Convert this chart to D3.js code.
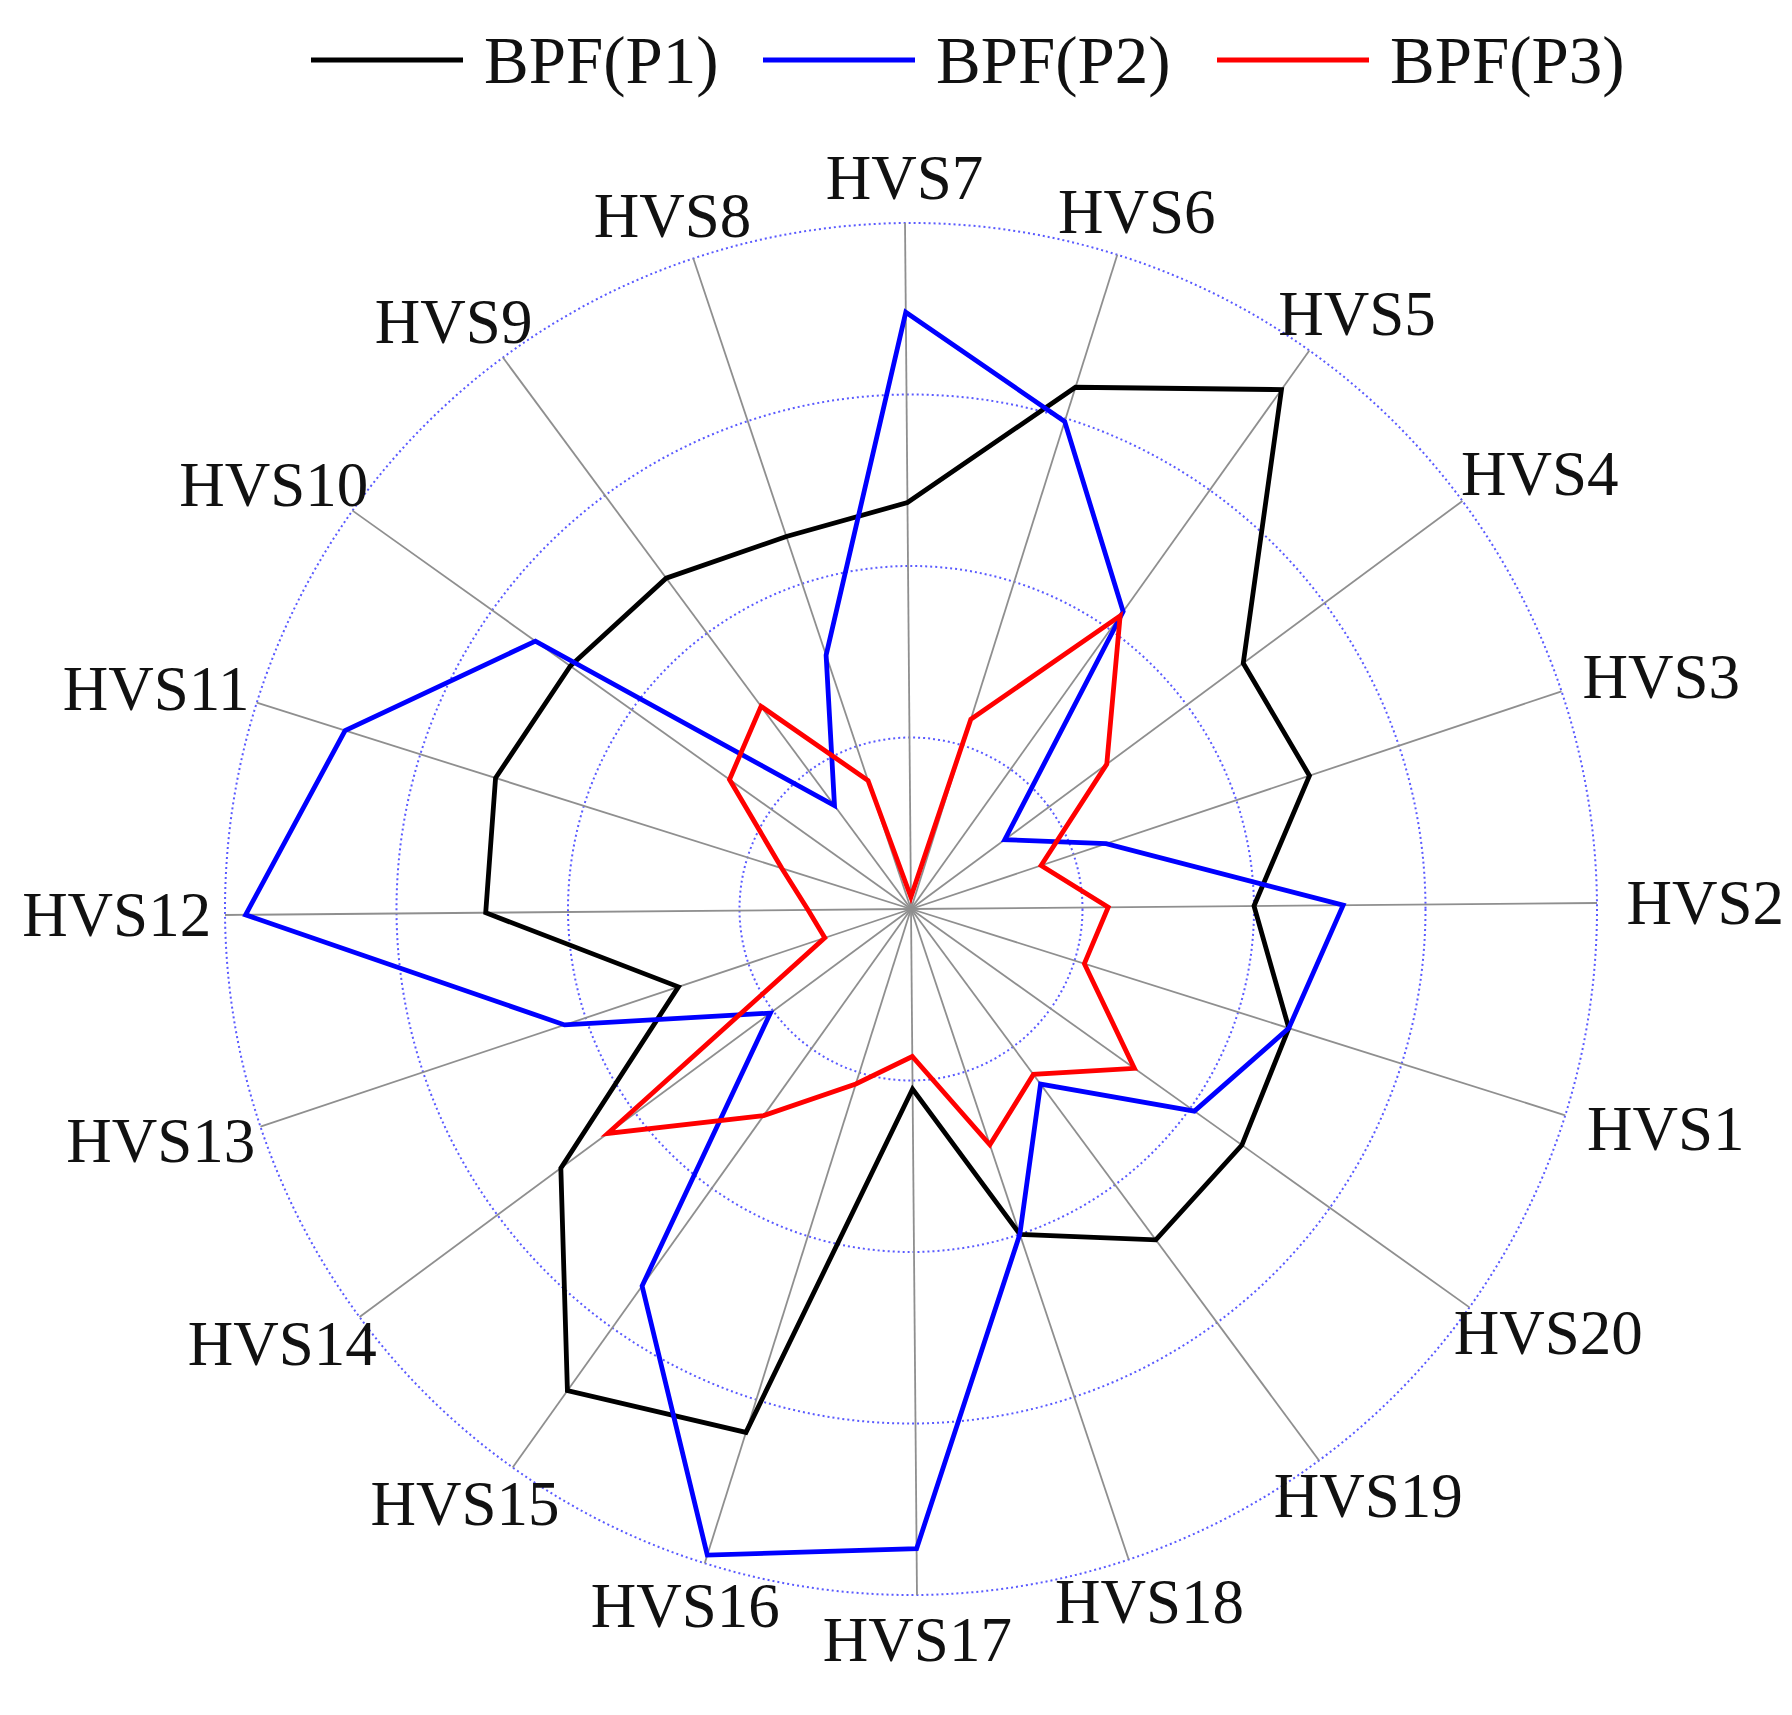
<!DOCTYPE html>
<html><head><meta charset="utf-8">
<script src="https://cdn.jsdelivr.net/npm/d3@7"></script>
<style>body{margin:0;background:#fff}</style>
</head><body>
<svg id="c" width="1792" height="1715"></svg>
<script>
const categories = ["HVS1","HVS2","HVS3","HVS4","HVS5","HVS6","HVS7","HVS8","HVS9","HVS10","HVS11","HVS12","HVS13","HVS14","HVS15","HVS16","HVS17","HVS18","HVS19","HVS20"];
const seriesNames = ["BPF(P1)","BPF(P2)","BPF(P3)"];
const p1 = [2.31,2.0,2.45,2.41,3.72,3.19,2.37,2.29,2.40,2.44,2.54,2.48,1.43,2.54,3.45,3.2,1.05,2.0,2.4,2.37];
const p2 = [2.31,2.52,1.2,0.68,2.13,2.98,3.48,1.56,0.75,2.69,3.46,3.88,2.13,1.02,2.7,3.95,3.73,2.0,1.27,2.03];
const p3 = [1.06,1.15,0.8,1.42,2.1,1.16,0.07,0.79,1.47,1.3,0.79,0.6,0.53,2.2,1.48,1.07,0.86,1.45,1.2,1.6];
const ringTicks = [1,2,3,4];
const colors = ["#000000","#0000ff","#ff0000"];

const svg = d3.select("#c");
const cx = 911, cy = 909, R = 686, S = 1.143;
const r = d3.scaleLinear().domain([0,4]).range([0,R]);
const a0 = (-18 + 0.5) * Math.PI/180;
function angle(i){ return a0 + i*18*Math.PI/180; }
function pt(i,v){ const a=angle(i); return [cx + r(v)*Math.cos(a), cy - r(v)*Math.sin(a)]; }
function labPos(i){
  const a=angle(i), c=Math.cos(a), s=Math.sin(a);
  const dist=(640+55*Math.abs(c))*S;
  return [cx+dist*c, cy-dist*s + 56*S*s*Math.abs(c)];
}

const g = svg.append("g");
g.selectAll("circle.ring").data(ringTicks).join("circle")
 .attr("cx",cx).attr("cy",cy).attr("r",d=>r(d))
 .attr("fill","none").attr("stroke","#5a5aff").attr("stroke-width",2)
 .attr("stroke-dasharray","2,3");
g.selectAll("line.spoke").data(categories).join("line")
 .attr("x1",cx).attr("y1",cy)
 .attr("x2",(d,i)=>pt(i,4)[0]).attr("y2",(d,i)=>pt(i,4)[1])
 .attr("stroke","#8f8f8f").attr("stroke-width",1.8);
g.selectAll("text.lab").data(categories).join("text")
 .attr("x",(d,i)=>labPos(i)[0]).attr("y",(d,i)=>labPos(i)[1])
 .attr("text-anchor","middle").attr("dominant-baseline","central")
 .attr("font-family","'Liberation Serif', 'DejaVu Serif', serif").attr("font-size",63).attr("fill","#111")
 .text(d=>d);
const line = d3.lineRadial().angle((d,i)=>Math.PI/2 - angle(i)).radius(d=>r(d)).curve(d3.curveLinearClosed);
[p1,p2,p3].forEach((s,k)=>{
  g.append("path").attr("transform",`translate(${cx},${cy})`)
   .attr("d",line(s)).attr("fill","none").attr("stroke",colors[k])
   .attr("stroke-width",4.8).attr("stroke-linejoin","miter");
});
const legX = [311,763,1217];
seriesNames.forEach((n,k)=>{
  svg.append("line").attr("x1",legX[k]).attr("x2",legX[k]+152).attr("y1",60).attr("y2",60)
    .attr("stroke",colors[k]).attr("stroke-width",4.8);
  svg.append("text").attr("x",legX[k]+173).attr("y",60).attr("dominant-baseline","central")
    .attr("font-family","'Liberation Serif', serif").attr("font-size",67).attr("fill","#111").text(n);
});
</script>
</body></html>
